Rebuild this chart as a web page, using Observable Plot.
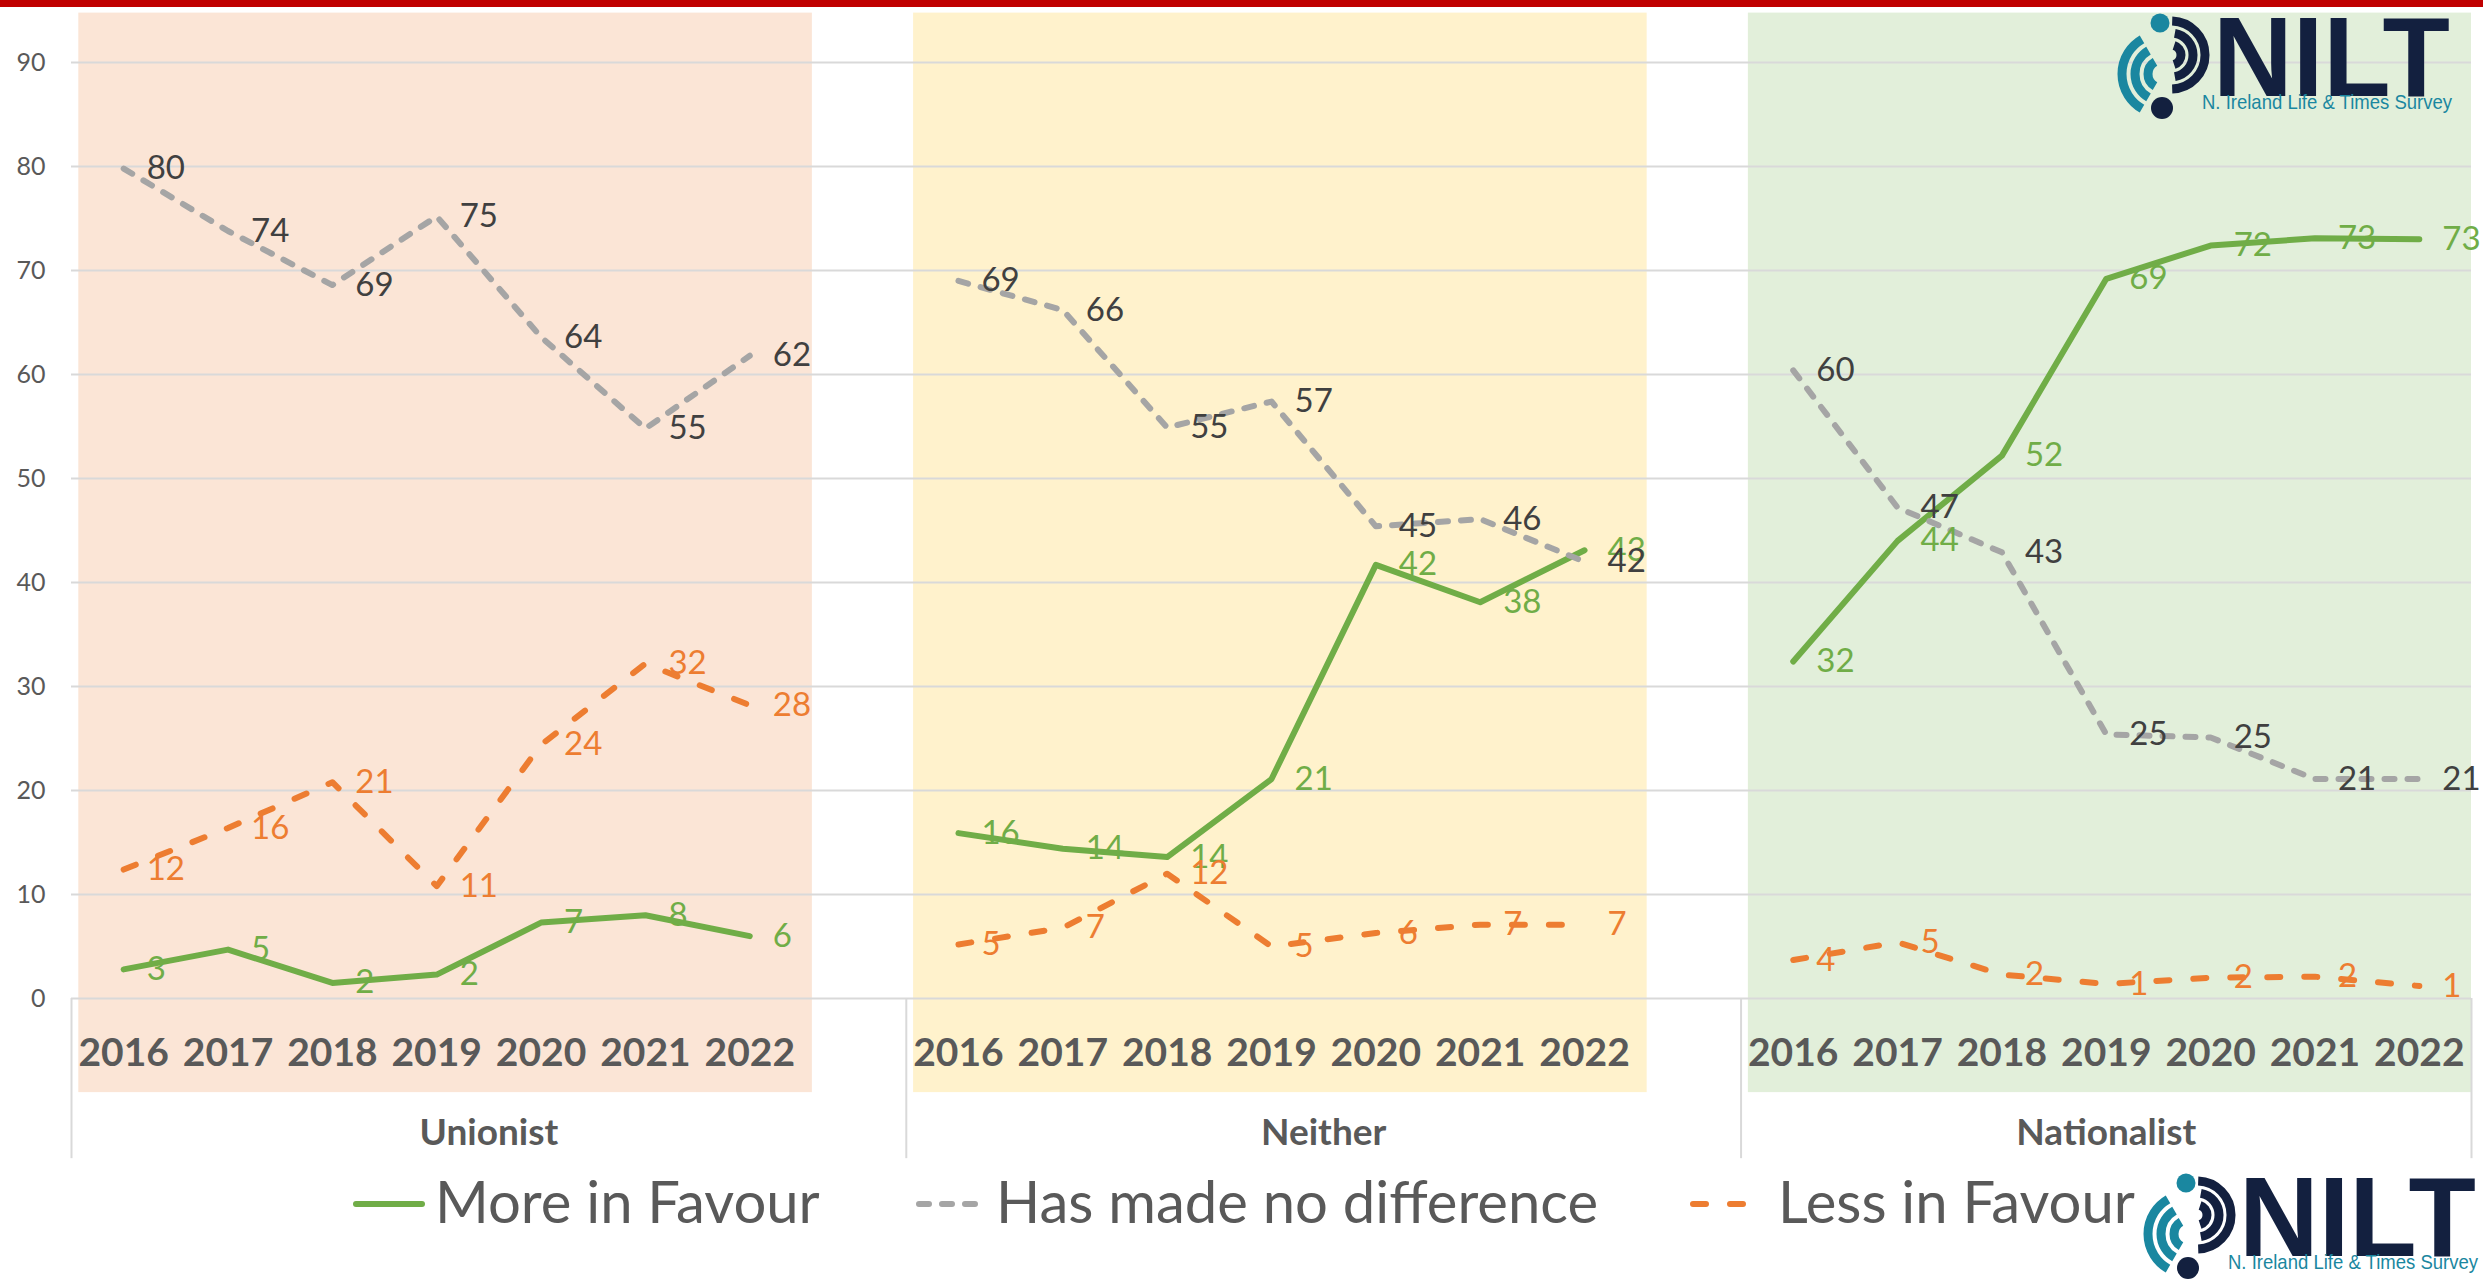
<!DOCTYPE html>
<html>
<head>
<meta charset="utf-8">
<script src="https://cdn.jsdelivr.net/npm/d3@7"></script>
<script src="https://cdn.jsdelivr.net/npm/@observablehq/plot@0.6"></script>
<style>
  html, body { margin: 0; padding: 0; background: #fff; width: 2483px; height: 1284px; overflow: hidden; position: relative; }
  #topbar { height: 7px; background: #C00000; width: 2483px; }
  .logo { position: absolute; }
  svg { display: block; }
</style>
</head>
<body>
<div id="topbar"></div>
<div id="chart"></div>
<div id="legend"></div>
<div id="logoTop" class="logo" style="left:2112px; top:-18px;"></div>
<div id="logoBottom" class="logo" style="left:2138px; top:1142px;"></div>
<script>
// ---------- data ----------
const years = [2016, 2017, 2018, 2019, 2020, 2021, 2022];
const groups = ["Unionist", "Neither", "Nationalist"];
const seriesNames = ["More in Favour", "Has made no difference", "Less in Favour"];
const yTicks = [0, 10, 20, 30, 40, 50, 60, 70, 80, 90];

const unionistMore         = [2.8, 4.7, 1.5, 2.3, 7.3, 8.0, 6.0];
const unionistNoDifference = [79.8, 73.8, 68.6, 75.2, 63.6, 54.8, 61.8];
const unionistLess         = [12.4, 16.4, 20.8, 10.8, 24.4, 32.2, 28.2];

const neitherMore          = [15.9, 14.4, 13.6, 21.1, 41.7, 38.1, 43.1];
const neitherNoDifference  = [69.0, 66.2, 54.9, 57.4, 45.4, 46.1, 42.0];
const neitherLess          = [5.2, 6.8, 12.0, 5.0, 6.3, 7.1, 7.1];

const nationalistMore         = [32.4, 44.0, 52.2, 69.2, 72.4, 73.1, 73.0];
const nationalistNoDifference = [60.4, 47.2, 42.9, 25.4, 25.1, 21.1, 21.1];
const nationalistLess         = [3.7, 5.4, 2.3, 1.4, 2.0, 2.1, 1.2];

// ---------- styles ----------
const seriesColors = ["#70AD47", "#A5A5A5", "#ED7D31"];
const labelColors  = ["#70AD47", "#404040", "#ED7D31"];
const seriesDash   = [null, "10,13", "13,24"];
const panelColors  = ["#FBE5D6", "#FFF2CC", "#E2EFDA"];
const FONT = "Lato, 'Liberation Sans', sans-serif";

// vertical layout below the value axis, in axis units
const panelTop = 94.75, panelBottom = -9.05;
const yearLabelY = -5.25, groupLabelY = -12.95, separatorEnd = -15.4;

// ---------- build table ----------
const seriesByGroup = [
  [unionistMore, unionistNoDifference, unionistLess],
  [neitherMore, neitherNoDifference, neitherLess],
  [nationalistMore, nationalistNoDifference, nationalistLess]
];
const slot = years.length + 1;                 // 7 years + 1 blank category
const nCat = groups.length * slot - 1;         // 23 categories
const rows = [];
groups.forEach((g, gi) => {
  seriesByGroup[gi].forEach((arr, si) => {
    arr.forEach((v, yi) => rows.push({
      group: g, series: seriesNames[si], si, year: years[yi],
      pos: gi * slot + yi + 0.5, value: v
    }));
  });
});
const yearRows = [];
groups.forEach((g, gi) => years.forEach((yr, yi) => yearRows.push({group: g, year: yr, pos: gi * slot + yi + 0.5})));
const panels = groups.map((g, gi) => ({
  group: g,
  x1: gi * slot + 0.07,
  x2: Math.min(gi * slot + years.length + 0.1, nCat),
  mid: (gi * slot + Math.min((gi + 1) * slot, nCat)) / 2,
  fill: panelColors[gi]
}));
const separators = groups.map((g, gi) => gi * slot).concat([nCat]);

const fmt = v => String(Math.round(v));

const marks = [
  Plot.rect(panels, {x1: "x1", x2: "x2", y1: panelBottom, y2: panelTop, fill: "fill"}),
  Plot.ruleY(yTicks, {stroke: "#D9D9D9", strokeWidth: 2}),
  Plot.axisY({ticks: yTicks, tickSize: 0, tickPadding: 26, fontSize: 25, fill: "#595959", label: null}),
  Plot.ruleX(separators, {y1: 0, y2: separatorEnd, stroke: "#D9D9D9", strokeWidth: 2})
];
seriesNames.forEach((s, si) => {
  marks.push(Plot.line(rows.filter(d => d.si === si), {
    x: "pos", y: "value", z: "group",
    stroke: seriesColors[si], strokeWidth: 6,
    strokeLinecap: "round", strokeLinejoin: "round",
    strokeDasharray: seriesDash[si] || undefined
  }));
});
seriesNames.forEach((s, si) => {
  marks.push(Plot.text(rows.filter(d => d.si === si), {
    x: "pos", y: "value", text: d => fmt(d.value),
    dx: 23, textAnchor: "start", lineAnchor: "middle",
    fontSize: 33, fill: labelColors[si]
  }));
});
marks.push(Plot.text(yearRows, {
  x: "pos", y: () => yearLabelY, text: d => String(d.year),
  fontSize: 39, fontWeight: "bold", fill: "#595959"
}));
marks.push(Plot.text(panels, {
  x: "mid", y: () => groupLabelY, text: "group",
  fontSize: 37, fontWeight: "bold", fill: "#595959"
}));

const chart = Plot.plot({
  width: 2483, height: 1155,
  marginTop: 55, marginBottom: 164, marginLeft: 71, marginRight: 12,
  x: {domain: [0, nCat], axis: null},
  y: {domain: [0, 90], axis: null},
  style: {fontFamily: FONT, color: "#595959", background: "transparent", overflow: "visible"},
  marks
});
document.getElementById("chart").appendChild(chart);

// ---------- legend ----------
const legendX = [353, 916, 1690];
const legendSwatchW = [72, 68, 58];
const legendTextX = [435, 996, 1778];
const ns = "http://www.w3.org/2000/svg";
const leg = document.createElementNS(ns, "svg");
leg.setAttribute("width", 2483);
leg.setAttribute("height", 122);
seriesNames.forEach((s, si) => {
  const line = document.createElementNS(ns, "line");
  line.setAttribute("x1", legendX[si] + 3);
  line.setAttribute("x2", legendX[si] + legendSwatchW[si] - 3);
  line.setAttribute("y1", 42); line.setAttribute("y2", 42);
  line.setAttribute("stroke", seriesColors[si]);
  line.setAttribute("stroke-width", 6);
  line.setAttribute("stroke-linecap", "round");
  if (seriesDash[si]) line.setAttribute("stroke-dasharray", seriesDash[si]);
  leg.appendChild(line);
  const t = document.createElementNS(ns, "text");
  t.setAttribute("x", legendTextX[si]);
  t.setAttribute("y", 61);
  t.setAttribute("font-family", FONT);
  t.setAttribute("font-size", 58);
  t.setAttribute("fill", "#595959");
  t.textContent = s;
  leg.appendChild(t);
});
document.getElementById("legend").appendChild(leg);

// ---------- logo ----------
function arcPath(cx, cy, r, a0, a1) {
  const rad = a => a * Math.PI / 180;
  const x0 = cx + r * Math.cos(rad(a0)), y0 = cy + r * Math.sin(rad(a0));
  const x1 = cx + r * Math.cos(rad(a1)), y1 = cy + r * Math.sin(rad(a1));
  const large = Math.abs(a1 - a0) > 180 ? 1 : 0;
  return `M${x0.toFixed(2)},${y0.toFixed(2)} A${r},${r} 0 ${large} 1 ${x1.toFixed(2)},${y1.toFixed(2)}`;
}
function logoSVG() {
  const navy = "#13203F", teal = "#1A87A0";
  let s = `<svg width="345" height="142" viewBox="0 -30 345 142" xmlns="${ns}">`;
  [40, 27, 14].forEach(r => { s += `<path d="${arcPath(50, 62, r, 120, 240)}" fill="none" stroke="${teal}" stroke-width="9"/>`; });
  [34, 22, 10].forEach((r, i) => { s += `<path d="${arcPath(59, 43, r, -88 + i * 8, 88 - i * 8)}" fill="none" stroke="${navy}" stroke-width="9"/>`; });
  s += `<circle cx="48" cy="11" r="9.5" fill="${teal}"/>`;
  s += `<circle cx="50" cy="96" r="11" fill="${navy}"/>`;
  s += `<text x="101" y="84" font-family="'Liberation Sans', sans-serif" font-weight="bold" font-size="113" fill="${navy}" textLength="237" lengthAdjust="spacingAndGlyphs">NILT</text>`;
  s += `<text x="90" y="97" font-family="'Liberation Sans Narrow', 'Liberation Sans', sans-serif" font-size="21" fill="${teal}" textLength="250" lengthAdjust="spacingAndGlyphs">N. Ireland Life &amp; Times Survey</text>`;
  s += `</svg>`;
  return s;
}
document.getElementById("logoTop").innerHTML = logoSVG();
document.getElementById("logoBottom").innerHTML = logoSVG();
</script>
</body>
</html>
